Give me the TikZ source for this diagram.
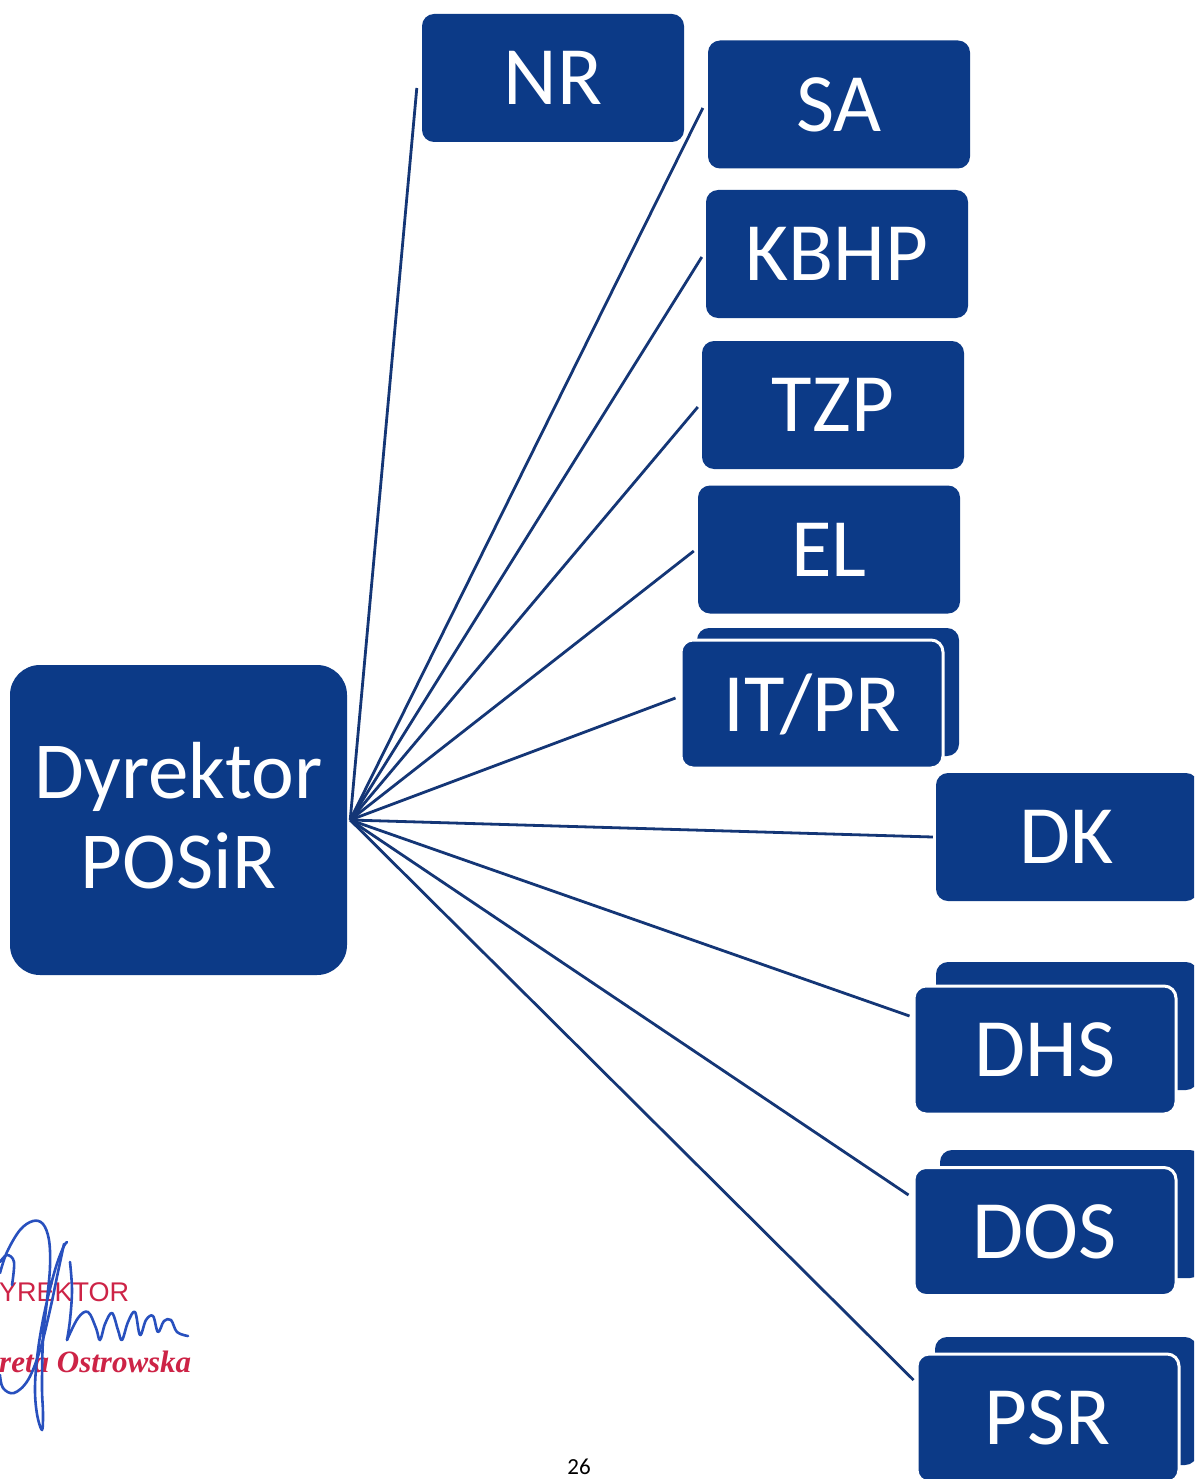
\documentclass[tikz,border=0pt]{standalone}
\usepackage{fontspec}
\setmainfont{Carlito}
\newfontfamily\stampsans{Liberation Sans}
\newfontfamily\stampserif{Liberation Serif}
\definecolor{boxblue}{RGB}{12,58,135}
\definecolor{lineblue}{RGB}{20,54,118}
\definecolor{stampred}{RGB}{205,35,70}
\definecolor{sigblue}{RGB}{40,80,190}
\begin{document}
\begin{tikzpicture}[x=1pt,y=-1pt,
  unit/.style={fill=boxblue, rounded corners=12pt, minimum width=262pt, minimum height=128pt,
    text=white, font=\fontsize{83}{90}\selectfont, inner sep=0pt},
  front/.style={unit, draw=white, line width=3pt},
  backbox/.style={fill=boxblue, rounded corners=12pt, minimum width=262pt, minimum height=128pt, inner sep=0pt},
  conn/.style={draw=lineblue, line width=2.8pt},
  sig/.style={draw=sigblue, line width=2.6pt, line cap=round, line join=round},
]
\useasboundingbox (0,0) rectangle (1194,1479);
\clip (0,0) rectangle (1194,1479);
\fill[white] (0,0) rectangle (1194,1479);

% main box
\node[unit, minimum width=337pt, minimum height=310pt, rounded corners=30pt, align=center,
  font=\fontsize{81}{90}\selectfont, text depth=10pt] (dyr) at (178.5,820) {Dyrektor\\POSiR};
\coordinate (hub) at ([shift={(3,0)}]dyr.east);

% back boxes of stacks
\node[backbox] (itprb) at (828,692) {};
\node[backbox] (dhsb) at (1067,1026) {};
\node[backbox] (dosb) at (1071,1214) {};
\node[backbox] (psrb) at (1066,1401) {};

% single boxes
\node[unit] (nr) at (553,78) {NR};
\node[unit] (sa) at (839,104.5) {SA};
\node[unit] (kbhp) at (837,254) {KBHP};
\node[unit] (tzp) at (833,405) {TZP};
\node[unit] (el) at (829,549.5) {EL};
\node[unit] (dk) at (1067,837) {DK};

% front boxes of stacks
\node[front] (itpr) at (812,704) {IT/PR};
\node[front] (dhs) at (1045,1050) {DHS};
\node[front] (dos) at (1045,1231.5) {DOS};
\node[front] (psr) at (1048,1418) {PSR};

% connectors
\draw[conn] (hub) -- ([shift={(-5,10)}]nr.west);
\draw[conn] (hub) -- ([shift={(-5,3.5)}]sa.west);
\draw[conn] (hub) -- ([shift={(-4,3)}]kbhp.west);
\draw[conn] (hub) -- ([shift={(-4,2)}]tzp.west);
\draw[conn] (hub) -- ([shift={(-4,1.5)}]el.west);
\draw[conn] (hub) -- ([shift={(-4,-6)}]itpr.west);
\draw[conn] (hub) -- ([shift={(-3,0)}]dk.west);
\draw[conn] (hub) -- ([shift={(-3,-34)}]dhs.west);
\draw[conn] (hub) -- ([shift={(-4,-36.5)}]dos.west);
\draw[conn] (hub) -- ([shift={(-2,-38)}]psr.west);

% stamp
\node[anchor=base west, inner sep=0pt, text=stampred, font=\stampsans\fontsize{27}{27}\selectfont] (st1) at (-1,1301) {YREKTOR};
\node[anchor=base west, inner sep=0pt, text=stampred, font=\stampserif\bfseries\itshape\fontsize{31}{31}\selectfont] (st2) at (-1,1372) {reta Ostrowska};

% signature
\draw[sig] plot[smooth, tension=0.6] coordinates {(0,1273) (7,1252) (20,1230) (33,1221) (43,1224) (49,1240) (50,1267) (47,1300) (43,1340) (42,1387) (43,1413) (42,1430) (37,1414) (35,1387) (38,1350) (45,1310) (55,1270) (63,1248) (67,1242)};
\draw[sig] plot[smooth, tension=0.6] coordinates {(64,1244) (58,1272) (50,1310) (40,1350) (28,1380) (14,1393) (3,1388) (0,1375)};
\draw[sig] plot[smooth, tension=0.6] coordinates {(0,1262) (7,1255) (14,1262) (12,1285)};
\draw[sig] plot[smooth, tension=0.6] coordinates {(70,1262) (72,1290) (70,1320) (67,1340)};
\draw[sig] plot[smooth, tension=0.6] coordinates {(67,1340) (78,1318) (88,1312) (96,1328) (100,1340) (105,1324) (112,1313) (118,1330) (122,1340) (128,1322) (135,1312) (140,1335) (146,1320) (153,1316) (158,1332) (164,1321) (171,1320) (177,1332) (188,1336)};

% page number
\node[anchor=base, inner sep=0pt, text=black, font=\fontsize{23}{23}\selectfont] (pg) at (579,1474) {26};
\end{tikzpicture}
\end{document}
